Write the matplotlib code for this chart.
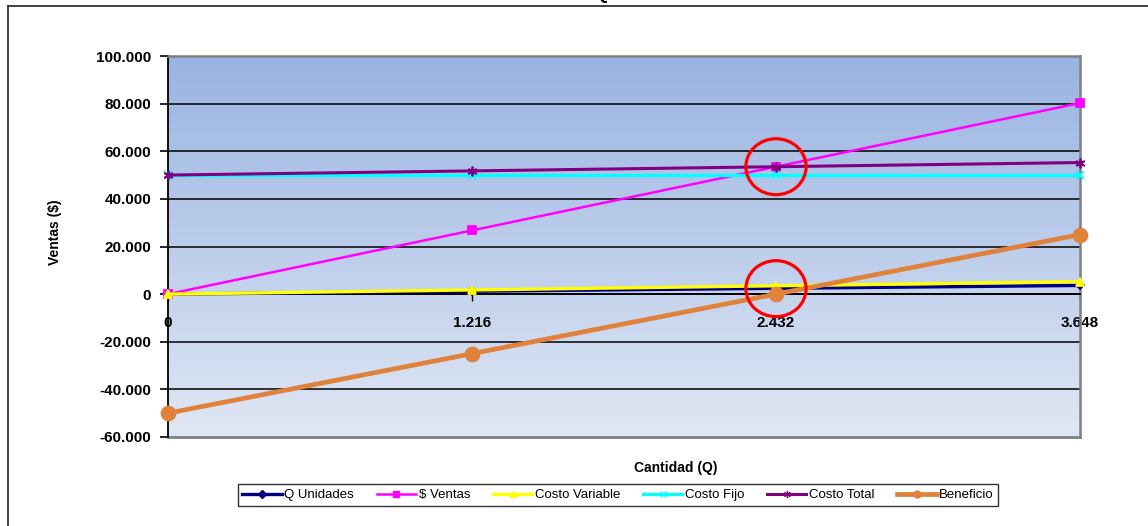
import numpy as np
import matplotlib
matplotlib.use("Agg")
import matplotlib.pyplot as plt
from matplotlib.lines import Line2D
from matplotlib.patches import Ellipse

# Break-even data (units on the category axis)
q_labels = ["0", "1.216", "2.432", "3.648"]
q_unidades = [0, 1216, 2432, 3648]
ventas = [0, 26752, 53504, 80256]
costo_variable = [0, 1751, 3502, 5253]
costo_fijo = [50000, 50000, 50000, 50000]
costo_total = [50000, 51751, 53502, 55253]
beneficio = [-50000, -24999, 2, 25003]

y_ticks = [-60000, -40000, -20000, 0, 20000, 40000, 60000, 80000, 100000]
y_labels = ["-60.000", "-40.000", "-20.000", "0", "20.000", "40.000",
            "60.000", "80.000", "100.000"]

W, H = 1148, 526
fig = plt.figure(figsize=(W / 100, H / 100), dpi=100)
fig.patch.set_facecolor("white")

BOLD = dict(family=["Liberation Sans", "DejaVu Sans"], weight="bold")
LEGEND_FONT = ["Liberation Sans Narrow", "Liberation Sans", "DejaVu Sans"]

# outer chart frame (open to the right and bottom)
fx = 8 / W
fy = 1 - 6 / H
fig.add_artist(Line2D([fx, fx], [0, fy], transform=fig.transFigure,
                      color="#333333", lw=1.3))
fig.add_artist(Line2D([fx, 1], [fy, fy], transform=fig.transFigure,
                      color="#333333", lw=1.3))

# title, mostly above the top edge
fig.text(601 / W, 1 + 1 / H, "Q", ha="center", va="baseline",
         fontsize=14, **BOLD)

left, right, top, bottom = 168, 1080, 56, 437
ax = fig.add_axes([left / W, 1 - bottom / H, (right - left) / W, (bottom - top) / H])

x = np.arange(len(q_labels))
ax.set_xlim(0, len(q_labels) - 1)
ax.set_ylim(-60000, 100000)

# vertical gradient background
grad = np.linspace(0, 1, 256).reshape(-1, 1)
c_top = np.array([153, 180, 226]) / 255
c_bot = np.array([224, 231, 244]) / 255
img = c_top[None, None, :] * (1 - grad[:, :, None]) + c_bot[None, None, :] * grad[:, :, None]
ax.imshow(img, extent=[0, 1, 0, 1], transform=ax.transAxes, aspect="auto",
          zorder=0, interpolation="bilinear")

# gridlines
for yv in y_ticks:
    if yv not in (-60000, 100000):
        ax.axhline(yv, color="black", lw=1.1, zorder=1)

series = [
    (q_unidades, "Q Unidades", "#000080", "D", 4, 2.4),
    (ventas, "$ Ventas", "#FF00FF", "s", 6, 1.8),
    (costo_variable, "Costo Variable", "#FFFF00", "^", 6, 2.4),
    (costo_fijo, "Costo Fijo", "#00FFFF", "x", 6, 2.4),
    (costo_total, "Costo Total", "#800080", (6, 2, 0), 7, 2.2),
    (beneficio, "Beneficio", "#E0823C", "o", 10, 3.4),
]
handles = []
for i, (vals, name, col, mk, ms, lw) in enumerate(series):
    ax.plot(x, vals, color=col, lw=lw, marker=mk, markersize=ms,
            markerfacecolor=col, markeredgecolor=col, markeredgewidth=1.3,
            zorder=3 + i, clip_on=False)
    handles.append(Line2D([], [], color=col, lw=lw, marker=mk,
                          markersize=min(ms, 5), markerfacecolor=col,
                          markeredgecolor=col, label=name))

# highlight circles at the break-even point
for cy in (53504, 2300):
    ax.add_patch(Ellipse((2, cy), 0.198, 23500, fill=False, edgecolor="#FF0000",
                         lw=2.3, zorder=20, clip_on=False))

# axes styling
for s in ("top", "right"):
    ax.spines[s].set_color("#808080")
    ax.spines[s].set_linewidth(1.8)
ax.spines["left"].set_color("black")
ax.spines["left"].set_linewidth(1.3)
ax.spines["bottom"].set_position(("data", 0))
ax.spines["bottom"].set_color("black")
ax.spines["bottom"].set_linewidth(1.3)
ax.add_artist(Line2D([0, 1], [0, 0], transform=ax.transAxes, color="#808080",
                     lw=2.0, clip_on=False, zorder=2))

ax.set_yticks(y_ticks)
ax.set_yticklabels(y_labels)
ax.set_xticks(x)
ax.set_xticklabels(q_labels)
ax.tick_params(axis="y", direction="out", length=6, width=1.2, color="black", pad=6)
ax.tick_params(axis="x", direction="out", length=5, width=1.0, color="black", pad=11)
for lab in ax.get_yticklabels() + ax.get_xticklabels():
    lab.set_fontfamily(BOLD["family"])
    lab.set_fontweight("bold")
    lab.set_fontsize(11)

fig.text(55 / W, 1 - 232 / H, "Ventas ($)", rotation=90, ha="center",
         va="center", fontsize=10, **BOLD)
fig.text(676 / W, 1 - 468 / H, "Cantidad (Q)", ha="center", va="center",
         fontsize=10, **BOLD)

leg = fig.legend(handles=handles, loc="center", ncol=6,
                 bbox_to_anchor=(618 / W, 1 - 495 / H), frameon=True,
                 fancybox=False, edgecolor="black", handlelength=3.0,
                 handletextpad=0.2, columnspacing=1.7, borderpad=0.35,
                 borderaxespad=0, prop=dict(family=LEGEND_FONT, size=9.5))
leg.get_frame().set_linewidth(1.0)

fig.savefig("out.png", dpi=100, facecolor="white")
